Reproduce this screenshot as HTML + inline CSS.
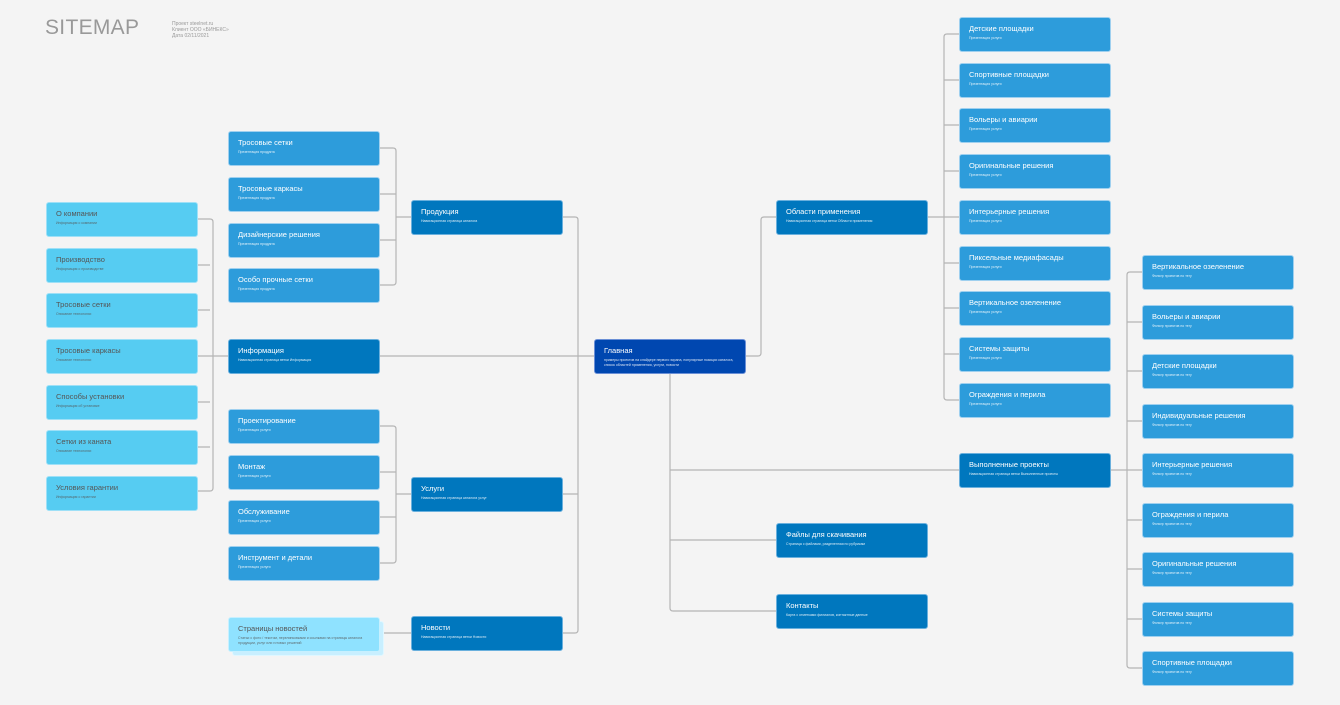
<!DOCTYPE html>
<html><head><meta charset="utf-8"><style>
body{margin:0;width:1340px;height:705px;background:#f4f4f4;position:relative;overflow:hidden;font-family:"Liberation Sans","Noto Sans CJK SC",sans-serif}
.n{position:absolute;width:152px;height:35px;border-radius:3px;box-sizing:border-box;padding:6px 9px;color:#fff;background:#2d9cdb;border:1px solid #9fd0ef}
.n b{display:block;font-weight:normal;font-size:7.5px;line-height:9px;white-space:nowrap}
.n i{display:block;font-style:normal;font-size:3.5px;line-height:5px;margin-top:3px;opacity:.85}
.a{background:#56ccf2;color:#555;border-color:#9ee0f7}
.d{background:#0077be;border-color:#6ab0dd}
.m{background:#0047b0;border-color:#6a8fd6}
.l{background:#8fe2ff;color:#555;border-color:#c7f0ff}
svg{position:absolute;left:0;top:0}
</style></head><body>
<div style="position:absolute;left:45px;top:16px;font-size:21px;color:#999;letter-spacing:.3px">SITEMAP</div>
<div style="position:absolute;left:172px;top:21px;font-size:5px;line-height:6px;color:#999">Проект steelnet.ru<br>Клиент ООО «БИНЕКС»<br>Дата 02/11/2021</div>
<svg width="1340" height="705" fill="none" stroke="#b5b5b5" stroke-width="1.2">
<path d="M198 219H210q3 0 3 3V488q0 3-3 3H198M198 265h12M198 310h12M198 356h30M198 402h12M198 447h12"/>
<path d="M380 148H393q3 0 3 3V282q0 3-3 3H380M380 194h16M380 240h16M396 217h15"/>
<path d="M380 426H393q3 0 3 3V560q0 3-3 3H380M380 472h16M380 517h16M396 494h15"/>
<path d="M380 356H594M380 633H411"/>
<path d="M563 217H575q3 0 3 3V630q0 3-3 3H563M563 494h15"/>
<path d="M746 356H758q3 0 3-3V220q0-3 3-3H776"/>
<path d="M670 374V608q0 3 3 3H776M670 540H776M670 470H959"/>
<path d="M928 217H944M959 34H947q-3 0-3 3V397q0 3 3 3H959M944 80h15M944 125h15M944 171h15M944 217h15M944 263h15M944 308h15M944 354h15"/>
<path d="M1111 470H1127M1142 272H1130q-3 0-3 3V665q0 3 3 3H1142M1127 322h15M1127 371h15M1127 421h15M1127 470h15M1127 520h15M1127 569h15M1127 619h15"/>
</svg>
<div class="n a" style="left:46px;top:202px"><b>О компании</b><i>Информация о компании</i></div>
<div class="n a" style="left:46px;top:248px"><b>Производство</b><i>Информация о производстве</i></div>
<div class="n a" style="left:46px;top:293px"><b>Тросовые сетки</b><i>Описание технологии</i></div>
<div class="n a" style="left:46px;top:339px"><b>Тросовые каркасы</b><i>Описание технологии</i></div>
<div class="n a" style="left:46px;top:385px"><b>Способы установки</b><i>Информация об установке</i></div>
<div class="n a" style="left:46px;top:430px"><b>Сетки из каната</b><i>Описание технологии</i></div>
<div class="n a" style="left:46px;top:476px"><b>Условия гарантии</b><i>Информация о гарантии</i></div>

<div class="n" style="left:228px;top:131px"><b>Тросовые сетки</b><i>Презентация продукта</i></div>
<div class="n" style="left:228px;top:177px"><b>Тросовые каркасы</b><i>Презентация продукта</i></div>
<div class="n" style="left:228px;top:223px"><b>Дизайнерские решения</b><i>Презентация продукта</i></div>
<div class="n" style="left:228px;top:268px"><b>Особо прочные сетки</b><i>Презентация продукта</i></div>
<div class="n d" style="left:228px;top:339px"><b>Информация</b><i>Навигационная страница ветки Информация</i></div>
<div class="n" style="left:228px;top:409px"><b>Проектирование</b><i>Презентация услуги</i></div>
<div class="n" style="left:228px;top:455px"><b>Монтаж</b><i>Презентация услуги</i></div>
<div class="n" style="left:228px;top:500px"><b>Обслуживание</b><i>Презентация услуги</i></div>
<div class="n" style="left:228px;top:546px"><b>Инструмент и детали</b><i>Презентация услуги</i></div>
<div class="n l" style="left:232px;top:621px;background:#c8efff;border-color:#e0f7ff"></div>
<div class="n l" style="left:228px;top:617px"><b>Страницы новостей</b><i>Статьи с фото / текстом, перелинковками и ссылками на страницы каталога продукции, услуг или готовых решений</i></div>

<div class="n d" style="left:411px;top:200px"><b>Продукция</b><i>Навигационная страница каталога</i></div>
<div class="n d" style="left:411px;top:477px"><b>Услуги</b><i>Навигационная страница каталога услуг</i></div>
<div class="n d" style="left:411px;top:616px"><b>Новости</b><i>Навигационная страница ветки Новости</i></div>

<div class="n m" style="left:594px;top:339px"><b>Главная</b><i>примеры проектов на слайдере первого экрана, популярные позиции каталога, список областей применения, услуги, новости</i></div>

<div class="n d" style="left:776px;top:200px"><b>Области применения</b><i>Навигационная страница ветки Области применения</i></div>
<div class="n d" style="left:776px;top:523px"><b>Файлы для скачивания</b><i>Страница с файлами, разделенная по рубрикам</i></div>
<div class="n d" style="left:776px;top:594px"><b>Контакты</b><i>Карта с отметками филиалов, контактные данные</i></div>

<div class="n" style="left:959px;top:17px"><b>Детские площадки</b><i>Презентация услуги</i></div>
<div class="n" style="left:959px;top:63px"><b>Спортивные площадки</b><i>Презентация услуги</i></div>
<div class="n" style="left:959px;top:108px"><b>Вольеры и авиарии</b><i>Презентация услуги</i></div>
<div class="n" style="left:959px;top:154px"><b>Оригинальные решения</b><i>Презентация услуги</i></div>
<div class="n" style="left:959px;top:200px"><b>Интерьерные решения</b><i>Презентация услуги</i></div>
<div class="n" style="left:959px;top:246px"><b>Пиксельные медиафасады</b><i>Презентация услуги</i></div>
<div class="n" style="left:959px;top:291px"><b>Вертикальное озеленение</b><i>Презентация услуги</i></div>
<div class="n" style="left:959px;top:337px"><b>Системы защиты</b><i>Презентация услуги</i></div>
<div class="n" style="left:959px;top:383px"><b>Ограждения и перила</b><i>Презентация услуги</i></div>
<div class="n d" style="left:959px;top:453px"><b>Выполненные проекты</b><i>Навигационная страница ветки Выполненные проекты</i></div>

<div class="n" style="left:1142px;top:255px"><b>Вертикальное озеленение</b><i>Фильтр проектов по тегу</i></div>
<div class="n" style="left:1142px;top:305px"><b>Вольеры и авиарии</b><i>Фильтр проектов по тегу</i></div>
<div class="n" style="left:1142px;top:354px"><b>Детские площадки</b><i>Фильтр проектов по тегу</i></div>
<div class="n" style="left:1142px;top:404px"><b>Индивидуальные решения</b><i>Фильтр проектов по тегу</i></div>
<div class="n" style="left:1142px;top:453px"><b>Интерьерные решения</b><i>Фильтр проектов по тегу</i></div>
<div class="n" style="left:1142px;top:503px"><b>Ограждения и перила</b><i>Фильтр проектов по тегу</i></div>
<div class="n" style="left:1142px;top:552px"><b>Оригинальные решения</b><i>Фильтр проектов по тегу</i></div>
<div class="n" style="left:1142px;top:602px"><b>Системы защиты</b><i>Фильтр проектов по тегу</i></div>
<div class="n" style="left:1142px;top:651px"><b>Спортивные площадки</b><i>Фильтр проектов по тегу</i></div>
</body></html>
